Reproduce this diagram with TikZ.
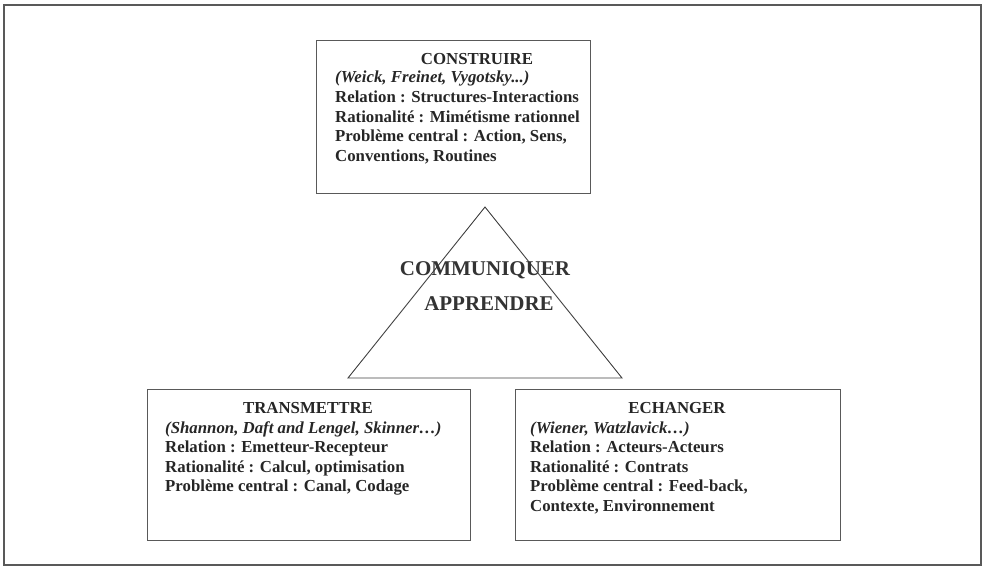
\documentclass[tikz,border=0pt]{standalone}
\usepackage{fontspec}
\setmainfont{Liberation Serif}
\begin{document}
\begin{tikzpicture}[x=1pt,y=-1pt,
  frame/.style={draw=black!65, line width=1.2pt},
  panel/.style={draw=black!65, line width=1.3pt, anchor=north west, inner sep=0pt},
  txt/.style={anchor=base west, inner sep=0pt, text=black!85,
    font=\fontsize{16.8}{19.5}\selectfont\bfseries},
  ttl/.style={anchor=base, inner sep=0pt, text=black!85,
    font=\fontsize{16.8}{19.5}\selectfont\bfseries},
  big/.style={anchor=base, inner sep=0pt, text=black!80,
    font=\fontsize{21}{24}\selectfont\bfseries}]
% page frame
\draw[frame] (4,5) rectangle (981,565);
\useasboundingbox (0,0) rectangle (983,567);

% three panels
\node[panel, minimum width=274pt, minimum height=153pt] (construire) at (316,40) {};
\node[panel, minimum width=323pt, minimum height=151pt] (transmettre) at (147,389) {};
\node[panel, minimum width=325pt, minimum height=151pt] (echanger) at (515,389) {};

% central triangle
\coordinate (apex) at (485,207);
\coordinate (bl) at (348,378);
\coordinate (br) at (622,378);
\draw[draw=black!75, line width=0.9pt, line join=miter] (apex) -- (br) -- (bl) -- cycle;
\node[big] (comm) at (485,275) {COMMUNIQUER};
\node[big] (appr) at (489,310) {APPRENDRE};

% CONSTRUIRE
\node[ttl] (c0) at (477,65) {CONSTRUIRE};
\node[txt] (c1) at (335,83) {\itshape(Weick, Freinet, Vygotsky...)};
\node[txt] (c2) at (335,103) {Relation : Structures-Interactions};
\node[txt] (c3) at (335,123) {Rationalité : Mimétisme rationnel};
\node[txt] (c4) at (335,142) {Problème central : Action, Sens,};
\node[txt] (c5) at (335,162) {Conventions, Routines};

% TRANSMETTRE
\node[ttl] (t0) at (308,413) {TRANSMETTRE};
\node[txt] (t1) at (165,433) {\itshape(Shannon, Daft and Lengel, Skinner…)};
\node[txt] (t2) at (165,452) {Relation : Emetteur-Recepteur};
\node[txt] (t3) at (165,472) {Rationalité : Calcul, optimisation};
\node[txt] (t4) at (165,491) {Problème central : Canal, Codage};

% ECHANGER
\node[ttl] (e0) at (677,413) {ECHANGER};
\node[txt] (e1) at (530,433) {\itshape(Wiener, Watzlavick…)};
\node[txt] (e2) at (530,452) {Relation : Acteurs-Acteurs};
\node[txt] (e3) at (530,472) {Rationalité : Contrats};
\node[txt] (e4) at (530,491) {Problème central : Feed-back,};
\node[txt] (e5) at (530,511) {Contexte, Environnement};
\end{tikzpicture}
\end{document}
